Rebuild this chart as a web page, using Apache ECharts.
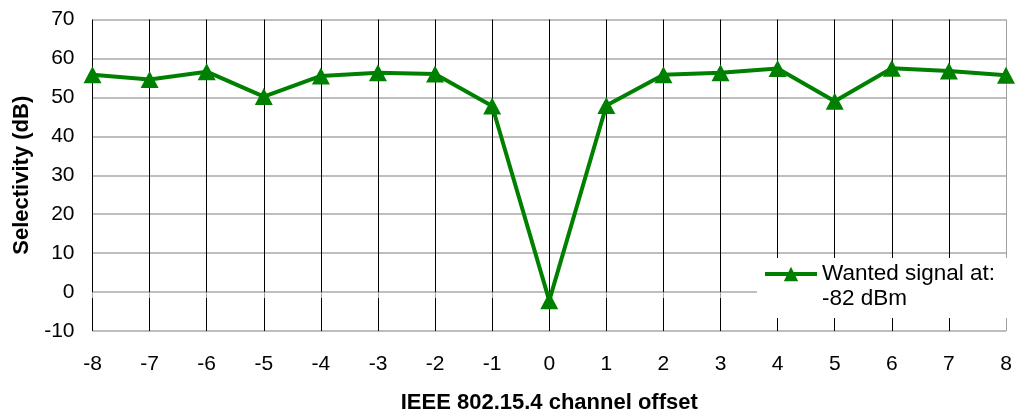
<!DOCTYPE html>
<html>
<head>
<meta charset="utf-8">
<script src="https://cdn.jsdelivr.net/npm/echarts@6/dist/echarts.min.js"></script>
<style>
  html, body { margin: 0; padding: 0; background: #fff; }
  #chart { width: 1015px; height: 415px; }
</style>
</head>
<body>
<div id="chart"></div>
<script>
// channel offsets and measured selectivity
var offsets = [-8, -7, -6, -5, -4, -3, -2, -1, 0, 1, 2, 3, 4, 5, 6, 7, 8]
var selectivity = [55.8, 54.6, 56.6, 50.2, 55.5, 56.3, 56.0, 47.8, -2.2, 47.9, 55.8, 56.3, 57.4, 49.0, 57.5, 56.8, 55.7]
var seriesName = 'Wanted signal at:\n-82 dBm'

var points = offsets.map(function (x, i) {
  return [x, selectivity[i]]
})

// vertical lines black, the last one (plot border) gray
var vLineColors = offsets.map(function (x, i) {
  return i === offsets.length - 1 ? '#a0a0a0' : '#000'
})

var chart = echarts.init(document.getElementById('chart'))
chart.setOption({
  animation: false,
  textStyle: { fontFamily: 'Liberation Sans, Arial, sans-serif' },
  grid: {
    left: 92.5,
    right: 9,
    top: 19.5,
    bottom: 84,
    containLabel: false,
    outerBoundsMode: 'none'
  },
  legend: {
    show: true,
    left: 757,
    top: 258,
    orient: 'vertical',
    backgroundColor: '#fff',
    // negative top padding: the white box starts below the empty first line
    padding: [-21.5, 13, 6.5, 6],
    itemWidth: 52,
    itemHeight: 18,
    lineStyle: { width: 4 },
    // empty first line puts the icon level with "Wanted signal at:"
    formatter: function (name) {
      return '\n' + name
    },
    textStyle: {
      fontSize: 22.5,
      lineHeight: 25,
      color: '#000'
    },
    data: [seriesName]
  },
  xAxis: {
    type: 'value',
    min: -8,
    max: 8,
    interval: 1,
    name: 'IEEE 802.15.4 channel offset',
    nameLocation: 'middle',
    nameGap: 61,
    nameTextStyle: { fontSize: 22, fontWeight: 'bold', color: '#000' },
    axisLine: { show: false },
    axisTick: { show: true, length: 6, lineStyle: { color: '#a0a0a0' } },
    axisLabel: { fontSize: 21, color: '#000', margin: 23 },
    splitLine: { show: true, lineStyle: { color: vLineColors, width: 1 } }
  },
  yAxis: {
    type: 'value',
    min: -10,
    max: 70,
    interval: 10,
    name: 'Selectivity (dB)',
    nameLocation: 'middle',
    nameGap: 55,
    nameTextStyle: { fontSize: 22, fontWeight: 'bold', color: '#000' },
    axisLine: { show: false },
    axisTick: { show: false },
    axisLabel: { fontSize: 21, color: '#000', margin: 18 },
    splitLine: { show: true, lineStyle: { color: '#a8a8a8', width: 1.5 } }
  },
  series: [
    {
      name: seriesName,
      type: 'line',
      data: points,
      color: '#008000',
      lineStyle: { width: 4 },
      symbol: 'triangle',
      symbolSize: [18, 17],
      itemStyle: { color: '#008000' },
      z: 3
    }
  ]
})
</script>
</body>
</html>
